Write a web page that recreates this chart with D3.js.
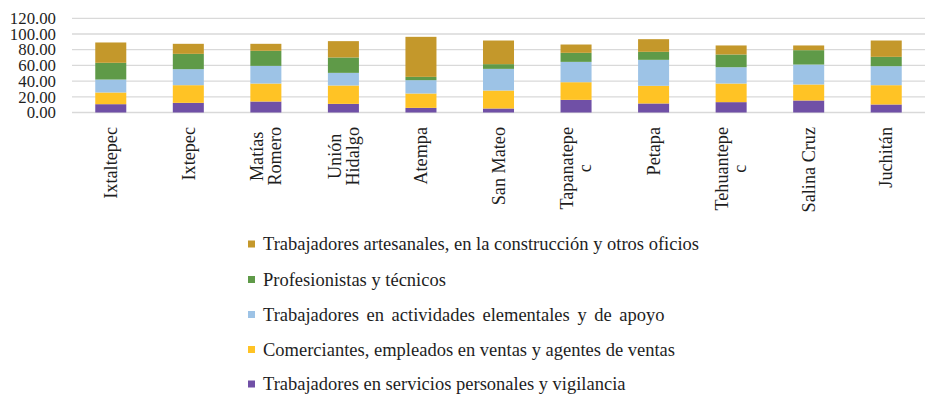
<!DOCTYPE html>
<html>
<head>
<meta charset="utf-8">
<script src="https://cdn.jsdelivr.net/npm/d3@7"></script>
<style>
  body { margin: 0; background: #fff; }
</style>
</head>
<body>
<svg width="930" height="403"></svg>
<script>
var categories = ["Ixtaltepec", "Ixtepec", "Matías Romero", "Unión Hidalgo", "Atempa", "San Mateo",
                  "Tapanatepec", "Petapa", "Tehuantepec", "Salina Cruz", "Juchitán"];
// wrapped the way the original axis shows them
var tickLabels = [["Ixtaltepec"], ["Ixtepec"], ["Matías", "Romero"], ["Unión", "Hidalgo"], ["Atempa"],
                  ["San Mateo"], ["Tapanatepe", "c"], ["Petapa"], ["Tehuantepe", "c"], ["Salina Cruz"], ["Juchitán"]];

var seriesNames = [
  "Trabajadores en servicios personales y vigilancia",
  "Comerciantes, empleados en ventas y agentes de ventas",
  "Trabajadores en actividades elementales y de apoyo",
  "Profesionistas y técnicos",
  "Trabajadores artesanales, en la construcción y otros oficios"
];
var servicios    = [10.6, 12.3, 14.0, 11.0, 5.9, 5.1, 16.1, 11.5, 13.2, 15.3, 10.2];
var comerciantes = [14.9, 22.5, 22.9, 23.4, 18.3, 22.9, 22.5, 22.5, 23.7, 20.4, 24.6];
var elementales  = [16.5, 20.4, 22.5, 16.1, 17.0, 27.6, 25.9, 33.1, 20.8, 25.4, 24.2];
var profesion    = [21.3, 19.5, 19.2, 19.6, 4.2, 6.0, 11.5, 10.2, 16.2, 18.3, 11.9];
var artesanales  = [25.9, 12.8, 8.9, 20.8, 51.0, 30.1, 10.6, 16.1, 11.5, 6.0, 20.8];
var seriesValues = [servicios, comerciantes, elementales, profesion, artesanales];
var colors = ["#7050a6", "#ffc325", "#9dc3e6", "#5f9a48", "#c4982b"];
var yTicks = [0, 20, 40, 60, 80, 100, 120];

var font = "Liberation Serif";
var ink = "#1e1e1e";

var svg = d3.select("svg");
var margin = {left: 72, right: 5, top: 18.3, bottom: 290.5};

var table = categories.map(function (c, i) {
  var row = {cat: c};
  seriesNames.forEach(function (s, j) { row[s] = seriesValues[j][i]; });
  return row;
});
var stacked = d3.stack().keys(seriesNames)(table);

var x = d3.scaleBand().domain(categories).range([margin.left, 930 - margin.right])
  .paddingInner(0.6).paddingOuter(0.3);
var y = d3.scaleLinear().domain([0, 120]).range([403 - margin.bottom, margin.top]);

// gridlines
svg.append("g").selectAll("line").data(yTicks).enter().append("line")
  .attr("x1", margin.left).attr("x2", 930 - margin.right)
  .attr("y1", function (d) { return y(d); }).attr("y2", function (d) { return y(d); })
  .attr("stroke", "#d9d9d9").attr("stroke-width", 1.3);

// y tick labels
svg.append("g").selectAll("text").data(yTicks).enter().append("text")
  .attr("x", 56).attr("y", function (d) { return y(d); }).attr("dy", "0.34em")
  .attr("text-anchor", "end")
  .attr("font-family", font).attr("font-size", 16.8).attr("fill", ink)
  .text(function (d) { return d.toFixed(2); });

// bars
svg.append("g").selectAll("g").data(stacked).enter().append("g")
  .attr("fill", function (d, i) { return colors[i]; })
  .selectAll("rect").data(function (d) { return d; }).enter().append("rect")
  .attr("x", function (d) { return x(d.data.cat); })
  .attr("width", x.bandwidth())
  .attr("y", function (d) { return y(d[1]); })
  .attr("height", function (d) { return y(d[0]) - y(d[1]); });

// rotated category labels
var lineH = 18;
categories.forEach(function (c, i) {
  var lines = tickLabels[i];
  var g = svg.append("g")
    .attr("transform", "translate(" + (x(c) + x.bandwidth() / 2) + ",127)");
  var t = g.append("text").attr("transform", "rotate(-90)")
    .attr("text-anchor", "middle")
    .attr("font-family", font).attr("font-size", 18.2).attr("fill", ink);
  lines.forEach(function (l, k) {
    t.append("tspan").attr("y", (k - (lines.length - 1) / 2) * lineH).attr("dy", "0.34em").text(l);
  });
  var maxLen = 0;
  t.selectAll("tspan").each(function () { maxLen = Math.max(maxLen, this.getComputedTextLength()); });
  t.selectAll("tspan").attr("x", -maxLen / 2);
});

// legend, top to bottom in reverse stack order
var legendY = [244, 279.5, 314.5, 349.5, 384];
var legend = svg.append("g").selectAll("g").data(seriesNames.slice().reverse()).enter().append("g")
  .attr("transform", function (d, i) { return "translate(248," + legendY[i] + ")"; });
legend.append("rect").attr("x", 0).attr("y", -3.5).attr("width", 7).attr("height", 7)
  .attr("fill", function (d, i) { return colors[colors.length - 1 - i]; });
legend.append("text").attr("x", 15).attr("dy", "0.34em")
  .attr("font-family", font).attr("font-size", 18.5).attr("fill", ink)
  .attr("word-spacing", function (d) { return d.indexOf("elementales") >= 0 ? 3 : 0; })
  .text(function (d) { return d; });
</script>
</body>
</html>
